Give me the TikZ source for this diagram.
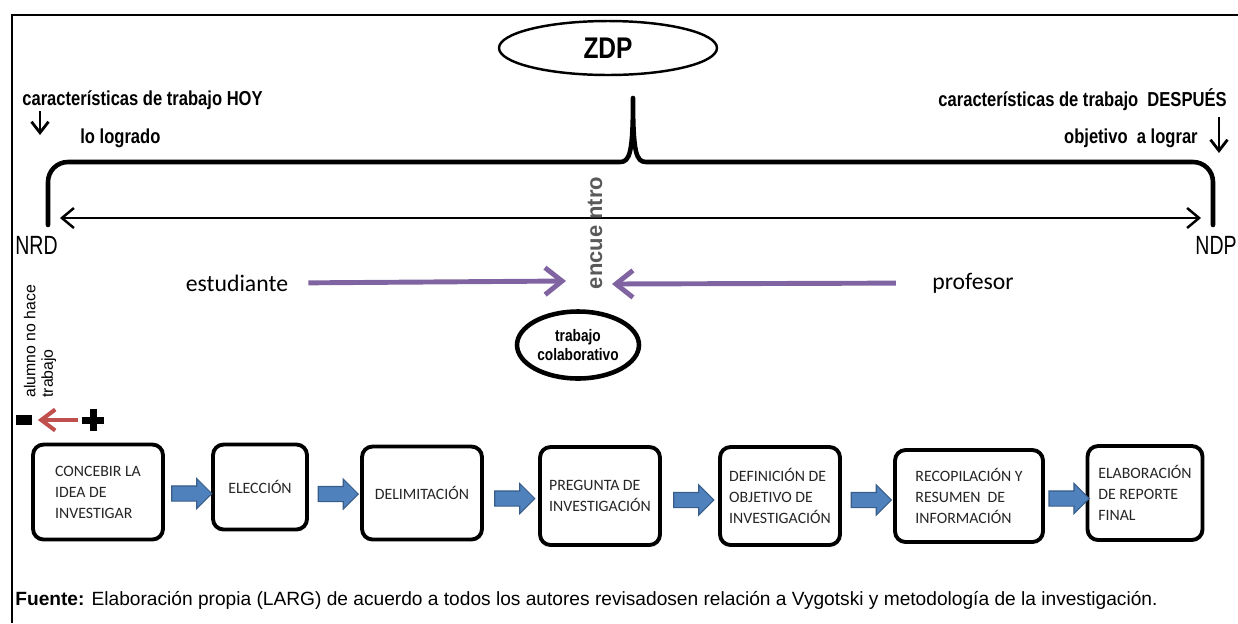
\documentclass[tikz,border=0pt]{standalone}
\usepackage{fontspec}
\setmainfont{Liberation Sans}
\newfontfamily\narrowfont{Liberation Sans}[FakeStretch=0.82]
\newfontfamily\slimfont{Liberation Sans}[FakeStretch=0.74]
\newfontfamily\calfont{Carlito}
\usetikzlibrary{arrows.meta,positioning,shapes.geometric,shapes.arrows,calc}
\definecolor{lila}{HTML}{8064A2}
\definecolor{rojo}{HTML}{C0504D}
\definecolor{azul}{HTML}{4F81BD}
\definecolor{azulborde}{HTML}{385D8A}
\definecolor{gris}{HTML}{595959}
\definecolor{tinta}{HTML}{262626}
\tikzset{
  marco/.style   = {line width=1.7pt, draw=black},
  llave/.style   = {line width=2.6pt, draw=black, line cap=round, line join=round},
  zona/.style    = {ellipse, draw=black, line width=1.4pt, inner sep=0pt},
  colab/.style   = {ellipse, draw=black, line width=2.6pt, inner sep=0pt, align=center,
                    font=\narrowfont\bfseries\fontsize{9.5}{11}\selectfont},
  etiq/.style    = {font=\narrowfont\bfseries\fontsize{11.5}{13}\selectfont, inner sep=0pt},
  nivel/.style   = {font=\slimfont\fontsize{15}{16}\selectfont, inner sep=0pt},
  actor/.style   = {font=\calfont\fontsize{13.5}{16}\selectfont, inner sep=0pt},
  paso/.style    = {rectangle, rounded corners=6pt, draw=black, line width=2.2pt, fill=white,
                    align=left, text=tinta, font=\calfont\fontsize{9}{12}\selectfont, inner sep=0pt},
  bloque/.style  = {single arrow, draw=azulborde, fill=azul, line width=0.6pt, inner xsep=0pt,
                    inner ysep=1.4mm, minimum width=5.8mm, single arrow head extend=1.5mm,
                    minimum height=8mm},
  fl/.style      = {{Straight Barb[length=2.4mm,width=4mm]}-{Straight Barb[length=2.4mm,width=4mm]},
                    line width=1.4pt, draw=black},
  flc/.style     = {-{Straight Barb[length=2.2mm,width=3.4mm]}, line width=1.6pt, draw=black},
  fll/.style     = {-{Straight Barb[length=3.4mm,width=5.4mm]}, line width=2.8pt, draw=lila},
  flr/.style     = {-{Straight Barb[length=2.8mm,width=4.2mm]}, line width=2.3pt, draw=rojo},
}
\begin{document}
\begin{tikzpicture}[x=0.02cm, y=-0.02cm]
\useasboundingbox (0,0) rectangle (1238,623);
% marco
\draw[marco] (12,623) -- (12,15) -- (1238,15);
% ZDP y llave
\node[zona, minimum width=4.36cm, minimum height=1.08cm,
      font=\narrowfont\bfseries\fontsize{17}{20}\selectfont] (zdp) at (608,48) {ZDP};
\draw[llave] (48,225) -- (48,182) to[out=90,in=180] (68,162) -- (620,162)
  .. controls (630,162) and (633,152) .. (633,98)
  .. controls (633,152) and (636,162) .. (646,162) -- (1193,162)
  to[out=0,in=90] (1213,182) -- (1213,225);
% caracteristicas
\node[etiq, anchor=west] (hoy) at (22,100) {características de trabajo HOY};
\node[etiq, anchor=west] (logrado) at (80,138) {lo logrado};
\node[etiq, anchor=east] (despues) at (1227,100) {características de trabajo\ \ DESPUÉS};
\node[etiq, anchor=east] (lograr) at (1198,138) {objetivo\ \ a lograr};
\coordinate (hoyA) at (40,111);
\coordinate (hoyB) at (40,135);
\coordinate (desA) at (1219,117);
\coordinate (desB) at (1219,153);
\draw[flc] (hoyA) -- (hoyB);
\draw[flc] (desA) -- (desB);
% niveles
\node[nivel, anchor=west] (nrd) at (15,245) {NRD};
\node[nivel, anchor=east] (ndp) at (1237,245) {NDP};
\coordinate (izq) at (60,218);
\coordinate (der) at (1201,218);
\draw[fl] (izq) -- (der);
% encuentro
\node[rotate=90, text=gris, inner sep=0pt,
      font=\bfseries\fontsize{12.5}{14}\selectfont] (encuentro) at (595,233) {encue ntro};
\node[actor] (est) at (237,283) {estudiante};
\node[actor] (prof) at (973,283) {profesor};
\coordinate (encA) at (566,281);
\coordinate (encB) at (612,284);
\draw[fll, shorten <=0.4cm] (est.east) -- (encA);
\draw[fll, shorten <=0.72cm] (prof.west) -- (encB);
\node[colab, minimum width=2.44cm, minimum height=1.34cm] (trabajo) at (578,345) {trabajo\\colaborativo};
% alumno no hace trabajo
\node[rotate=90, anchor=west, align=left, inner sep=0pt,
      font=\fontsize{9}{10}\selectfont] (alumno) at (40,398) {alumno no hace\\trabajo};
\node[fill=black, inner sep=0pt, minimum width=0.34cm, minimum height=0.2cm] (menos) at (24,420) {};
\node[inner sep=0pt, minimum size=0.44cm] (mas) at (93,420) {};
\draw[line width=0.14cm] (mas.west) -- (mas.east) (mas.north) -- (mas.south);
\draw[flr, shorten <=0.08cm, shorten >=0.1cm] (mas.west) -- (menos.east);
% pasos de la investigacion
\node[paso, minimum width=2.6cm, minimum height=1.9cm] (p1) at (98,492) {CONCEBIR LA\\IDEA DE\\INVESTIGAR};
\node[paso, minimum width=1.88cm, minimum height=1.7cm] (p2) at (260,487) {ELECCIÓN};
\node[paso, minimum width=2.4cm, minimum height=1.86cm] (p3) at (422,493) {DELIMITACIÓN};
\node[paso, minimum width=2.4cm, minimum height=1.96cm] (p4) at (600,496) {PREGUNTA DE\\INVESTIGACIÓN};
\node[paso, minimum width=2.4cm, minimum height=1.96cm] (p5) at (780,496) {DEFINICIÓN DE\\OBJETIVO DE\\INVESTIGACIÓN};
\node[paso, minimum width=2.96cm, minimum height=1.84cm] (p6) at (969,496) {RECOPILACIÓN Y\\RESUMEN\ \ DE\\INFORMACIÓN};
\node[paso, minimum width=2.3cm, minimum height=1.88cm] (p7) at (1145,493) {ELABORACIÓN\\DE REPORTE\\FINAL};
\foreach \a/\b in {p1/p2,p2/p3,p3/p4,p4/p5,p5/p6,p6/p7}
  \node[bloque] (f\a) at ($(\a.east)!0.5!(\b.west)+(0,4)$) {};
% fuente
\node[anchor=west, inner sep=0pt, font=\fontsize{10.9}{13}\selectfont] (fuente) at (15,600)
  {\textbf{Fuente:} Elaboración propia (LARG) de acuerdo a todos los autores revisadosen relación a Vygotski y metodología de la investigación.};
\end{tikzpicture}
\end{document}
